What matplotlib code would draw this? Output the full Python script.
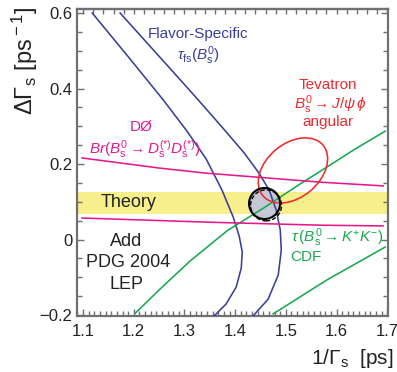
import matplotlib
matplotlib.use("Agg")
import matplotlib.pyplot as plt
from matplotlib.patches import Ellipse
from matplotlib.transforms import Affine2D
from matplotlib.ticker import MultipleLocator, AutoMinorLocator, FuncFormatter

plt.rcParams["font.family"] = ["Liberation Sans", "DejaVu Sans"]
plt.rcParams["mathtext.fontset"] = "custom"
plt.rcParams["mathtext.rm"] = "Liberation Sans"
plt.rcParams["mathtext.it"] = "Liberation Sans:italic"
plt.rcParams["mathtext.bf"] = "Liberation Sans:bold"

# flavor-specific lifetime band (two contours)
fs_left_x = [1.118, 1.191, 1.258, 1.305, 1.343, 1.374, 1.396, 1.408, 1.414, 1.412, 1.402, 1.382, 1.358]
fs_left_y = [0.600, 0.481, 0.370, 0.287, 0.213, 0.131, 0.060, 0.009, -0.033, -0.076, -0.126, -0.171, -0.203]
fs_right_x = [1.173, 1.283, 1.327, 1.374, 1.418, 1.447, 1.467, 1.481, 1.489, 1.491, 1.485, 1.465, 1.435]
fs_right_y = [0.600, 0.436, 0.370, 0.298, 0.229, 0.176, 0.131, 0.078, 0.025, -0.028, -0.094, -0.158, -0.203]

# CDF tau(Bs -> K+K-) band
cdf_up_x = [1.203, 1.252, 1.311, 1.384, 1.459, 1.528, 1.581, 1.637, 1.696]
cdf_up_y = [-0.195, -0.131, -0.057, 0.023, 0.086, 0.147, 0.192, 0.240, 0.287]
cdf_lo_x = [1.475, 1.581, 1.696]
cdf_lo_y = [-0.197, -0.107, -0.020]

# D0 branching-ratio band
d0_up_x = [1.098, 1.252, 1.341, 1.568, 1.692]
d0_up_y = [0.216, 0.189, 0.176, 0.152, 0.142]
d0_lo_x = [1.098, 1.345, 1.568, 1.692]
d0_lo_y = [0.057, 0.046, 0.038, 0.036]

# theory band
theory_lo, theory_hi = 0.067, 0.126

# Tevatron angular contour: centre, semi-axes (in x units), tilt
tev_center = (1.514, 0.183)
tev_axes = (0.0775, 0.053)
tev_angle = 40

# combined fit
fit_center = (1.458, 0.0954)
fit_center_alt = (1.461, 0.0905)
fit_radius = 0.0306

BLUE = "#3b3f98"
GREEN = "#19a84e"
PINK = "#e6198c"
RED = "#ee2a2e"
SPINE = "#707070"

fig = plt.figure(figsize=(3.97, 3.72), dpi=100)
ax = fig.add_axes([0.194, 0.1505, 0.7834, 0.8253])
ax.set_xlim(1.088, 1.7016)
ax.set_ylim(-0.2026, 0.6106)

ax.axhspan(theory_lo, theory_hi, color="#f7ee8c", lw=0, zorder=1)

lw = 1.15
ax.plot(fs_left_x, fs_left_y, color=BLUE, lw=lw, zorder=3)
ax.plot(fs_right_x, fs_right_y, color=BLUE, lw=lw, zorder=3)
ax.plot(cdf_up_x, cdf_up_y, color=GREEN, lw=lw, zorder=3)
ax.plot(cdf_lo_x, cdf_lo_y, color=GREEN, lw=lw, zorder=3)
ax.plot(d0_up_x, d0_up_y, color=PINK, lw=lw, zorder=3)
ax.plot(d0_lo_x, d0_lo_y, color=PINK, lw=lw, zorder=3)

# screen aspect so ellipses can be given in x units
p0 = ax.transData.transform((0, 0))
p1 = ax.transData.transform((1, 1))
k = (p1[0] - p0[0]) / (p1[1] - p0[1])


def screen_ellipse(center, a, b, angle, **kw):
    trans = Affine2D().scale(1, k).translate(*center) + ax.transData
    return Ellipse((0, 0), 2 * a, 2 * b, angle=angle, transform=trans, **kw)


ax.add_patch(screen_ellipse(fit_center, fit_radius, fit_radius, 0,
                            facecolor="#c6c9d4", edgecolor="none", zorder=2))
ax.add_patch(screen_ellipse(tev_center, tev_axes[0], tev_axes[1], tev_angle,
                            facecolor="none", edgecolor=RED, lw=lw, zorder=4))
ax.add_patch(screen_ellipse(fit_center_alt, fit_radius, fit_radius, 0,
                            facecolor="none", edgecolor="black", lw=1.0,
                            ls=(0, (3, 1.5)), zorder=5))
ax.add_patch(screen_ellipse(fit_center, fit_radius, fit_radius, 0,
                            facecolor="none", edgecolor="black", lw=1.5, zorder=5))

# labels
ax.text(1.326, 0.544, "Flavor-Specific", color=BLUE, fontsize=11, ha="center", va="center")
ax.text(1.327, 0.486, r"$\tau_{\rm fs}(B_{\rm s}^{0})$", color=BLUE, fontsize=11, ha="center", va="center")
ax.text(1.583, 0.409, "Tevatron", color=RED, fontsize=11, ha="center", va="center")
ax.text(1.587, 0.356, r"$B_{\rm s}^{0}\rightarrow J/\psi\,\phi$", color=RED, fontsize=11, ha="center", va="center")
ax.text(1.583, 0.311, "angular", color=RED, fontsize=11, ha="center", va="center")
ax.text(1.214, 0.298, "DØ", color=PINK, fontsize=11, ha="center", va="center")
ax.text(1.221, 0.240, r"$Br(B_{\rm s}^{0}\rightarrow D_{\rm s}^{(*)}D_{\rm s}^{(*)})$", color=PINK,
        fontsize=11, ha="center", va="center")
ax.text(1.189, 0.097, "Theory", color="#222222", fontsize=13, ha="center", va="center", zorder=6)
ax.text(1.185, -0.004, "Add", color="#222222", fontsize=13, ha="center", va="center")
ax.text(1.189, -0.062, "PDG 2004", color="#222222", fontsize=13, ha="center", va="center")
ax.text(1.185, -0.120, "LEP", color="#222222", fontsize=13, ha="center", va="center")
ax.text(1.601, 0.004, r"$\tau\,(B_{\rm s}^{0}\rightarrow K^{+}K^{-})$", color=GREEN, fontsize=11,
        ha="center", va="center")
ax.text(1.540, -0.046, "CDF", color=GREEN, fontsize=11, ha="center", va="center")

# axes styling
ax.xaxis.set_major_locator(MultipleLocator(0.1))
ax.xaxis.set_minor_locator(AutoMinorLocator(9))
ax.yaxis.set_major_locator(MultipleLocator(0.2))
ax.yaxis.set_minor_locator(MultipleLocator(0.05))
fmt = FuncFormatter(lambda v, p: f"{v:g}".replace("-", "\u2212") if abs(v) > 1e-9 else "0")
ax.xaxis.set_major_formatter(fmt)
ax.yaxis.set_major_formatter(fmt)
ax.tick_params(which="both", direction="in", top=False, right=True, color=SPINE,
               labelsize=12, labelcolor="#222222")
ax.tick_params(which="major", length=5, width=1)
ax.tick_params(which="minor", length=3.5, width=1)
ax.tick_params(axis="x", pad=6)
top = ax.secondary_xaxis("top")
top.xaxis.set_major_locator(MultipleLocator(0.1))
top.xaxis.set_minor_locator(AutoMinorLocator(5))
top.tick_params(which="both", direction="in", length=3.5, width=1, color=SPINE, labeltop=False)
top.spines["top"].set_color(SPINE)
top.spines["top"].set_linewidth(1.6)
for side in ax.spines.values():
    side.set_color(SPINE)
    side.set_linewidth(1.6)

fig.text(25 / 397, 1 - 61 / 372, r"$\Delta\Gamma_{\rm s}$ [ps$^{\rm -1}$]", rotation=90,
         fontsize=17, ha="center", va="center", color="#222222")
fig.text(394 / 397, 1 - 358 / 372, r"$1/\Gamma_{\rm s}$  [ps]", fontsize=15,
         ha="right", va="center", color="#222222")

fig.savefig("out.png", dpi=100)
